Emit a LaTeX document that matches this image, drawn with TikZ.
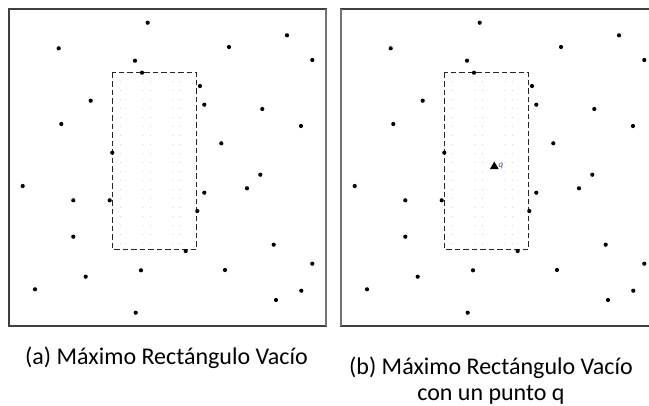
\documentclass[tikz,border=0pt]{standalone}
\usepackage{fontspec}
\setmainfont{Carlito}
\usetikzlibrary{shapes.geometric}
\begin{document}
\begin{tikzpicture}[x=1pt,y=-1pt,
  pt/.style={circle,fill=black,inner sep=0pt,minimum size=4.2pt},
  frame/.style={draw=black!75,line width=1.1pt},
  emptyrect/.style={draw=black!85,line width=1.1pt,dash pattern=on 5.5pt off 3pt},
  faint/.style={fill=black!15},
  caption/.style={font=\fontsize{24}{25}\selectfont,inner sep=0pt,anchor=base}]
\useasboundingbox (0,0) rectangle (649,405);
% frames
\draw[frame] (9,9) rectangle (326,326);
\draw[frame] (649.6,9) -- (341,9) -- (341,326) -- (649.6,326);
\draw[black!55,line width=1.3pt] (326,9) -- (326,326);
\draw[black!55,line width=1.3pt] (341,9) -- (341,326);
\foreach \dx/\p in {0/a,332/b}{
  \begin{scope}[xshift=\dx]
  % faint grid of dots inside the rectangle
  \foreach \gx in {120.5,143,150.5,173,180.5}{
    \foreach \gy in {81.5,90.5,...,245}{
      \fill[faint] (\gx,\gy) circle (0.6pt);
    }
  }
  \draw[emptyrect] (112.3,72.7) rectangle (196.7,249.3);
  \foreach \i/\x/\y in {1/147.7/22.7,2/58.7/48.3,3/287/35.3,4/229/47,5/312.3/60,6/135/60.7,
     7/142/72.7,8/200/86,9/90.7/100.7,10/204.3/104.7,11/262.3/109,12/61.3/124,13/301/126,
     14/221.3/143.3,15/112.3/152.7,16/260.3/174.7,17/22.7/186,18/247/188.3,19/204.3/192.7,
     20/73.3/200.3,21/109.7/200.3,22/197.3/211,23/73.3/236.7,24/273.7/244.7,25/185.7/251,
     26/312.3/263.7,27/141/270.3,28/225/270,29/85.7/276.7,30/35/289.3,31/301.3/290.7,
     32/276/300,33/135.7/312.7}{
    \node[pt] (\p\i) at (\x,\y) {};
  }
  \end{scope}
}
% query point q
\node[fill=black,isosceles triangle,isosceles triangle apex angle=60,shape border rotate=90,inner sep=0pt,minimum height=7.5pt,minimum width=7.5pt] (q) at (494.3,166.5) {};
\node[anchor=west,inner sep=0pt,font=\fontsize{9}{10}\selectfont\itshape,text={rgb,255:red,95;green,70;blue,140}] (ql) at ([xshift=1pt]q.east) {q};
% captions
\node[caption] (capa) at (166.5,364) {(a) Máximo Rectángulo Vacío};
\node[caption] (capb) at (491,374) {(b) Máximo Rectángulo Vacío};
\node[caption] (capc) at (491,400) {con un punto q};
\end{tikzpicture}
\end{document}
